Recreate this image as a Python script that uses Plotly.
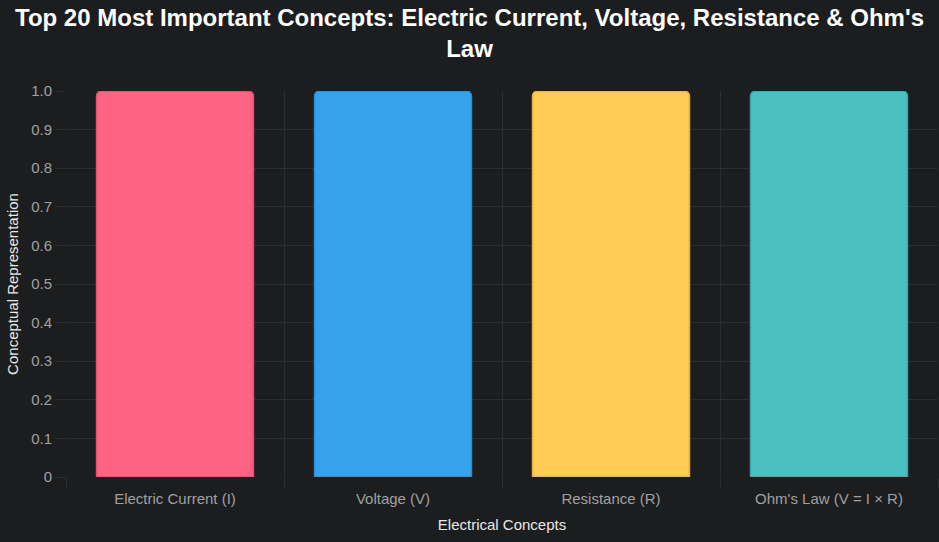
import plotly.graph_objects as go

concepts = ["Electric Current (I)", "Voltage (V)", "Resistance (R)", "Ohm's Law (V = I × R)"]
values = [1, 1, 1, 1]
bar_colors = ["#ff6384", "#36a2eb", "#ffcd56", "#4bc0c0"]
edge_colors = ["#e0506f", "#2b8fd4", "#e0b040", "#3aa8a8"]
y_ticks = [0, 0.1, 0.2, 0.3, 0.4, 0.5, 0.6, 0.7, 0.8, 0.9, 1.0]
y_labels = ["0", "0.1", "0.2", "0.3", "0.4", "0.5", "0.6", "0.7", "0.8", "0.9", "1.0"]

bg = "#1c1d1f"
grid = "#2c2d30"
font = "Arial, Liberation Sans, Helvetica, sans-serif"

fig = go.Figure()
fig.add_trace(go.Bar(
    x=concepts, y=values,
    marker=dict(color=bar_colors, line=dict(color=edge_colors, width=1.5), cornerradius=5),
    width=0.72,
    hoverinfo="x+y",
))

fig.update_layout(
    width=939, height=542,
    paper_bgcolor=bg, plot_bgcolor=bg,
    margin=dict(l=66, r=1, t=91, b=65),
    showlegend=False,
    font=dict(family=font, color="#a0a0a0", size=15),
    title=dict(
        text="<b>Top 20 Most Important Concepts: Electric Current, Voltage, Resistance & Ohm's<br>Law</b>",
        x=0.5, xanchor="center", yref="container", y=0.952, yanchor="top",
        font=dict(size=24, color="#ffffff", family=font),
    ),
    xaxis=dict(
        tickson="boundaries", showgrid=True, gridcolor=grid, gridwidth=1,
        ticks="outside", ticklen=10, tickcolor=grid,
        showline=False, zeroline=False, ticklabelstandoff=11,
        tickfont=dict(size=15, color="#a0a0a0"),
        title=dict(text="Electrical Concepts", font=dict(size=15, color="#e8e8e8"), standoff=13),
    ),
    yaxis=dict(
        range=[0, 1], tickvals=y_ticks, ticktext=y_labels,
        showgrid=True, gridcolor=grid, gridwidth=1,
        ticks="outside", ticklen=10, tickcolor=grid,
        showline=False, zeroline=False,
        tickfont=dict(size=15, color="#a0a0a0"),
        title=dict(text="Conceptual Representation", font=dict(size=15, color="#e8e8e8"), standoff=8),
    ),
)

fig.write_html(
    "out.html",
    config={"displayModeBar": False},
    post_script="document.body.style.margin='0';document.body.style.background='#1c1d1f';",
)
